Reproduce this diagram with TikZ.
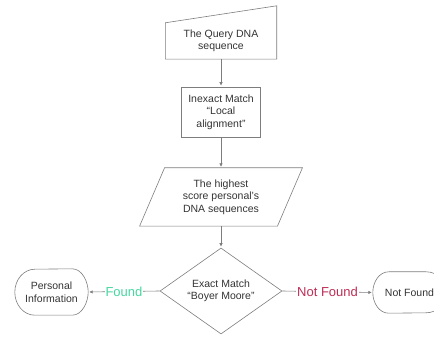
\documentclass[tikz,border=0pt]{standalone}
\usepackage{fontspec}
\setmainfont{Liberation Sans}
\usepackage{tikz}
\usetikzlibrary{shapes.geometric}
\usetikzlibrary{arrows.meta}
\usepackage{xcolor}
\definecolor{edgegray}{RGB}{125,125,125}
\definecolor{foundgreen}{RGB}{70,215,160}
\definecolor{notred}{RGB}{190,45,85}

\begin{document}
\begin{tikzpicture}[x=1pt,y=1pt,
  txt/.style={inner sep=0pt,align=center,text=black!80,font=\fontsize{10.5}{12.5}\selectfont},
  outline/.style={draw=edgegray,line width=0.6pt},
  link/.style={draw=edgegray,line width=0.6pt,-{Latex[length=3.5pt,width=3.5pt]},shorten >=1pt},
  tag/.style={fill=white,inner sep=1pt,font=\fontsize{13}{15}\selectfont}]
\useasboundingbox (0,0) rectangle (434,337);
\node[txt,minimum width=111,minimum height=36] (query) at (221,296) {The Query DNA\\sequence};
\draw[outline] (query.south west) -- (query.south east) -- ([yshift=17]query.north east) -- (query.north west) -- cycle;
\node[txt,outline,minimum width=79,minimum height=50] (match) at (221,225) {Inexact Match\\“Local\\alignment”};
\node[txt,minimum width=137.5,minimum height=58] (best) at (221,140) {The highest\\score personal's\\DNA sequences};
\draw[outline] ([xshift=12.5]best.north west) -- ([xshift=12.5]best.north east) -- ([xshift=-12.5]best.south east) -- ([xshift=-12.5]best.south west) -- cycle;
\node[txt,outline,diamond,aspect=1.42,minimum width=122,minimum height=86] (exact) at (221,46) {Exact Match\\“Boyer Moore”};
\node[txt,minimum width=73,minimum height=46] (pers) at (51.5,45) {Personal\\Information};
\draw[outline] ([xshift=20]pers.south west) arc[start angle=270,end angle=90,x radius=20,y radius=23] -- ([xshift=-16]pers.north east) .. controls ([xshift=-6]pers.north east) and ([yshift=10]pers.east) .. (pers.east) .. controls ([yshift=-10]pers.east) and ([xshift=-6]pers.south east) .. ([xshift=-16]pers.south east) -- cycle;
\node[txt,minimum width=73,minimum height=41] (nf) at (409.5,44.5) {Not Found};
\draw[outline] (nf.west) .. controls ([yshift=10]nf.west) and ([xshift=6]nf.north west) .. ([xshift=16]nf.north west) -- ([xshift=-20]nf.north east) arc[start angle=90,end angle=-90,x radius=20,y radius=20.5] -- ([xshift=16]nf.south west) .. controls ([xshift=6]nf.south west) and ([yshift=-10]nf.west) .. (nf.west);
\draw[link] (query) -- (match);
\draw[link] (match) -- (best);
\draw[link] (best) -- (exact);
\draw[link] (exact.west) -- node[tag,text=foundgreen]{Found} (pers.east);
\draw[link] (exact.east) -- node[tag,text=notred]{Not Found} (nf.west);
\end{tikzpicture}
\end{document}
